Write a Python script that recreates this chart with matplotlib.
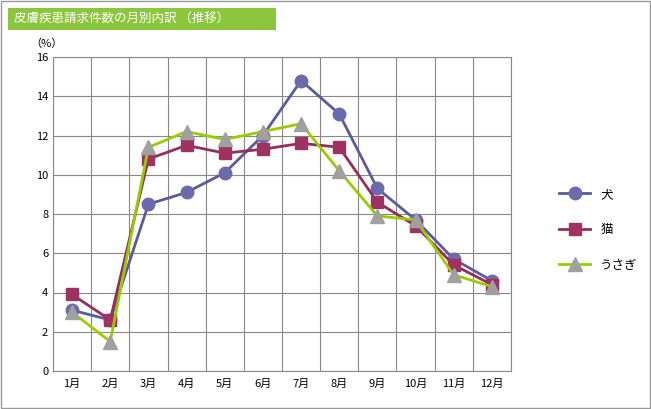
import matplotlib as mpl
import matplotlib.pyplot as plt
from matplotlib.patches import Rectangle

mpl.rcParams["font.family"] = "Noto Sans CJK JP"

MONTHS = [f"{m}月" for m in range(1, 13)]
DOG = [3.1, 2.6, 8.5, 9.1, 10.1, 12.0, 14.8, 13.1, 9.3, 7.7, 5.7, 4.6]
CAT = [3.9, 2.6, 10.8, 11.5, 11.1, 11.3, 11.6, 11.4, 8.6, 7.4, 5.4, 4.4]
RABBIT = [3.0, 1.5, 11.4, 12.2, 11.8, 12.2, 12.6, 10.2, 7.9, 7.7, 4.9, 4.3]

W, H = 651, 409
fig = plt.figure(figsize=(W / 100, H / 100), dpi=100)
fig.patches.append(Rectangle((0.002, 0.002), 0.996, 0.996, transform=fig.transFigure,
                             fill=False, edgecolor="#999999", linewidth=1))
fig.patches.append(Rectangle((8 / W, 1 - 30 / H), 268 / W, 22 / H, transform=fig.transFigure,
                             facecolor="#8cc63e", edgecolor="none"))
fig.text(14 / W, 1 - 19 / H, "皮膚疾患請求件数の月別内訳 （推移）", color="white",
         fontsize=9, va="center", ha="left")

ax = fig.add_axes([53 / W, 1 - 371 / H, 458 / W, 314 / H])
xs = range(len(MONTHS))
ax.plot(xs, DOG, color="#5b5b9b", linewidth=2, marker="o", markersize=9,
        markerfacecolor="#6b6bab", markeredgecolor="#6b6bab", label="犬")
ax.plot(xs, CAT, color="#962d5a", linewidth=2, marker="s", markersize=9,
        markerfacecolor="#9e3363", markeredgecolor="#9e3363", label="猫")
ax.plot(xs, RABBIT, color="#99cc00", linewidth=2, marker="^", markersize=10,
        markerfacecolor="#a0a0a0", markeredgecolor="#a0a0a0", label="うさぎ")

ax.set_xlim(-0.5, 11.5)
ax.set_ylim(0, 16)
ax.set_yticks(range(0, 17, 2))
ax.set_xticks(list(xs))
ax.set_xticklabels(MONTHS)
ax.set_xticks([x + 0.5 for x in range(-1, 12)], minor=True)
ax.grid(which="minor", axis="x", color="#888888", linewidth=0.8)
ax.grid(which="major", axis="y", color="#888888", linewidth=0.8)
ax.tick_params(which="both", length=0, labelsize=8)
ax.tick_params(axis="x", pad=6)
for s in ax.spines.values():
    s.set_color("#888888")
fig.text(30 / W, 1 - 44 / H, "（%）", fontsize=8, va="center")

ax.legend(loc="center left", bbox_to_anchor=(1.08, 0.45), frameon=False,
          fontsize=9, labelspacing=1.8, handlelength=2.5)
fig.savefig("out.png", dpi=100)
